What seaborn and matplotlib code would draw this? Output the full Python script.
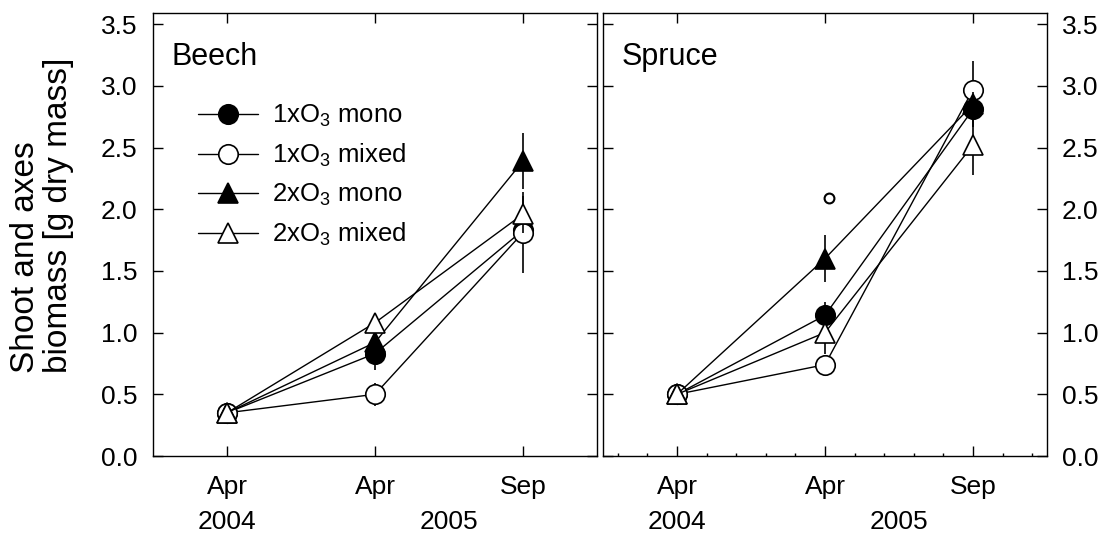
import matplotlib
matplotlib.use("Agg")
import matplotlib.pyplot as plt
import seaborn as sns
from matplotlib.ticker import MultipleLocator

# ---------------- data ----------------
x_pos = [0, 1, 2]
time_labels = ["Apr", "Apr", "Sep"]
year_labels = ["2004", "2005"]
year_pos = [0, 1.5]
series_labels = ["1xO$_3$ mono", "1xO$_3$ mixed", "2xO$_3$ mono", "2xO$_3$ mixed"]
panel_titles = ["Beech", "Spruce"]
y_ticks = [0.0, 0.5, 1.0, 1.5, 2.0, 2.5, 3.0, 3.5]
y_label = "Shoot and axes\nbiomass [g dry mass]"

beech_1x_mono = [0.35, 0.83, 1.83]
beech_1x_mono_err = [0.02, 0.13, 0.10]
beech_1x_mixed = [0.35, 0.50, 1.81]
beech_1x_mixed_err = [0.02, 0.095, 0.33]
beech_2x_mono = [0.35, 0.92, 2.39]
beech_2x_mono_err = [0.02, 0.12, 0.23]
beech_2x_mixed = [0.35, 1.08, 1.96]
beech_2x_mixed_err = [0.02, 0.04, 0.15]

spruce_1x_mono = [0.50, 1.14, 2.81]
spruce_1x_mono_err = [0.02, 0.11, 0.14]
spruce_1x_mixed = [0.50, 0.74, 2.97]
spruce_1x_mixed_err = [0.02, 0.05, 0.23]
spruce_2x_mono = [0.50, 1.60, 2.85]
spruce_2x_mono_err = [0.02, 0.19, 0.10]
spruce_2x_mixed = [0.50, 1.00, 2.52]
spruce_2x_mixed_err = [0.02, 0.17, 0.24]
spruce_outlier_x = [1.03]
spruce_outlier_y = [2.09]

# ---------------- style ----------------
sns.set_style("ticks")
plt.rcParams["font.family"] = ["Liberation Sans", "DejaVu Sans"]
plt.rcParams["mathtext.default"] = "regular"
plt.rcParams["axes.linewidth"] = 1.0
plt.rcParams["text.color"] = "black"
plt.rcParams["xtick.color"] = "black"
plt.rcParams["ytick.color"] = "black"
plt.rcParams["xtick.labelcolor"] = "black"
plt.rcParams["ytick.labelcolor"] = "black"
plt.rcParams["axes.edgecolor"] = "black"

markers = ["o", "o", "^", "^"]
faces = ["black", "white", "black", "white"]

fig = plt.figure(figsize=(11.09, 5.33), dpi=100)
W, H = 1109, 533
axL = fig.add_axes([153 / W, 1 - 456 / H, 444 / W, 443 / H])
axR = fig.add_axes([603 / W, 1 - 456 / H, 444 / W, 443 / H])

beech = [(beech_1x_mono, beech_1x_mono_err), (beech_1x_mixed, beech_1x_mixed_err),
         (beech_2x_mono, beech_2x_mono_err), (beech_2x_mixed, beech_2x_mixed_err)]
spruce = [(spruce_1x_mono, spruce_1x_mono_err), (spruce_1x_mixed, spruce_1x_mixed_err),
          (spruce_2x_mono, spruce_2x_mono_err), (spruce_2x_mixed, spruce_2x_mixed_err)]

for ax, data, with_labels in [(axL, beech, True), (axR, spruce, False)]:
    for i, (vals, errs) in enumerate(data):
        ax.errorbar(x_pos, vals, yerr=errs, fmt="none", ecolor="black",
                    elinewidth=1.2, capsize=0, zorder=2 + i)
        kw = dict(label=series_labels[i]) if with_labels else {}
        sns.lineplot(x=x_pos, y=vals, ax=ax, color="black", marker=markers[i],
                     markerfacecolor=faces[i], markeredgecolor="black",
                     markersize=14, markeredgewidth=1.2, linewidth=1.0,
                     legend=False, zorder=2 + i, **kw)
    ax.set_xlim(-0.5, 2.5)
    ax.set_ylim(0, 3.59)
    ax.set_xticks(x_pos)
    ax.set_xticklabels(time_labels)
    ax.set_yticks(y_ticks)
    ax.set_yticklabels([f"{t:.1f}" for t in y_ticks])
    ax.tick_params(axis="both", which="major", direction="in", top=True, right=True,
                   length=7, width=1.0, labelsize=19, colors="black")
    ax.tick_params(axis="x", which="major", pad=13.5)
    ax.set_xlabel("")
    ax.set_ylabel("")
    for s in ax.spines.values():
        s.set_visible(True)
        s.set_color("black")
        s.set_linewidth(1.0)
    for xp, yl in zip(year_pos, year_labels):
        ax.text(xp, -0.1648, yl, transform=ax.get_xaxis_transform(),
                ha="center", va="baseline", fontsize=19, color="black")

axL.tick_params(axis="y", pad=11)
axR.tick_params(axis="y", which="major", labelleft=False, labelright=True, pad=10.5)
axR.xaxis.set_minor_locator(MultipleLocator(0.2))
axR.tick_params(axis="x", which="minor", direction="in", bottom=True, top=False,
                length=2.5, width=1.0)

sns.scatterplot(x=spruce_outlier_x, y=spruce_outlier_y, ax=axR, marker="o",
                s=50, facecolor="white", edgecolor="black", linewidth=1.5,
                zorder=8, legend=False)
if axR.get_legend() is not None:
    axR.get_legend().remove()

axL.text(0.042, 0.883, panel_titles[0], transform=axL.transAxes, fontsize=22,
         ha="left", va="baseline", color="black")
axR.text(0.042, 0.883, panel_titles[1], transform=axR.transAxes, fontsize=22,
         ha="left", va="baseline", color="black")

handles, labels = axL.get_legend_handles_labels()
axL.legend(handles, labels, loc="upper left", bbox_to_anchor=(0.101, 0.797),
           frameon=False, fontsize=18.5, handlelength=2.35, handletextpad=0.55,
           labelspacing=0.5, borderpad=0, borderaxespad=0, labelcolor="black")

fig.text(42 / W, 1 - 215 / H, y_label, rotation=90, ha="center", va="center",
         multialignment="left", fontsize=24, linespacing=1.1, color="black")

fig.savefig("out.png", dpi=100)
